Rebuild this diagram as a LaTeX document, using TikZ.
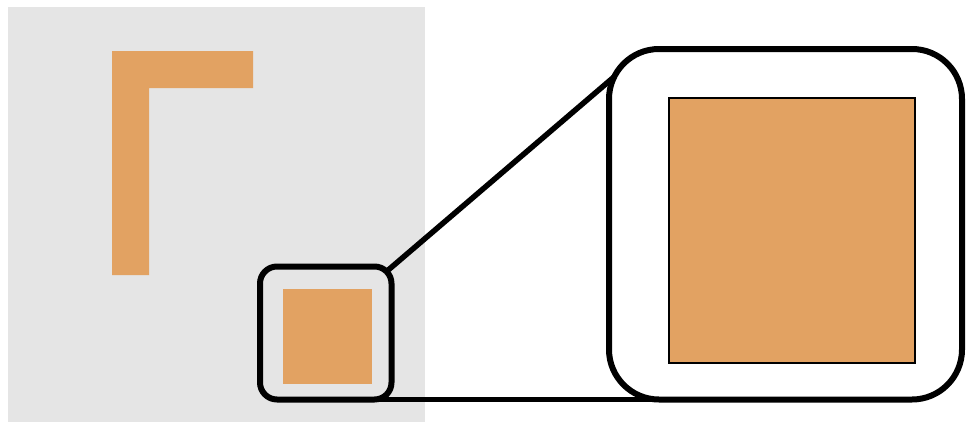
\documentclass[tikz,border=0pt]{standalone}
\definecolor{orng}{HTML}{E2A262}
\definecolor{bggray}{HTML}{E5E5E5}
\begin{document}
\begin{tikzpicture}[x=1pt,y=-1pt,
  frame/.style={draw=black,line width=6pt,inner sep=0pt,outer sep=0pt},
  swatch/.style={fill=orng,inner sep=0pt,outer sep=0pt},
  link/.style={draw=black,line width=5.5pt}]
\useasboundingbox (0,0) rectangle (966,423);
% gray background panel
\fill[bggray] (8,7) rectangle (425,422);
% L shape
\fill[orng] (112,51) -- (253,51) -- (253,88) -- (149,88) -- (149,275) -- (112,275) -- cycle;
% connectors (drawn first, the large frame covers their ends)
\coordinate (a) at (386.5,271.5);
\coordinate (b) at (640,54.7);
\draw[link] (a) -- (b);
\coordinate (c) at (370,399.5);
\coordinate (d) at (700,399.5);
\draw[link] (c) -- (d);
% small orange square
\node[swatch,minimum width=89.3pt,minimum height=95pt] (sq) at (327.35,336.2) {};
% small frame
\node[frame,rounded corners=17pt,minimum width=131.5pt,minimum height=133pt] (small) at (325.75,333) {};
% large frame
\node[frame,fill=white,rounded corners=50pt,minimum width=353pt,minimum height=350.5pt] (big) at (785.5,224.25) {};
% large orange square
\node[swatch,draw=black,line width=1.2pt,minimum width=246pt,minimum height=265pt] (bigsq) at (792,230.5) {};
\end{tikzpicture}
\end{document}
